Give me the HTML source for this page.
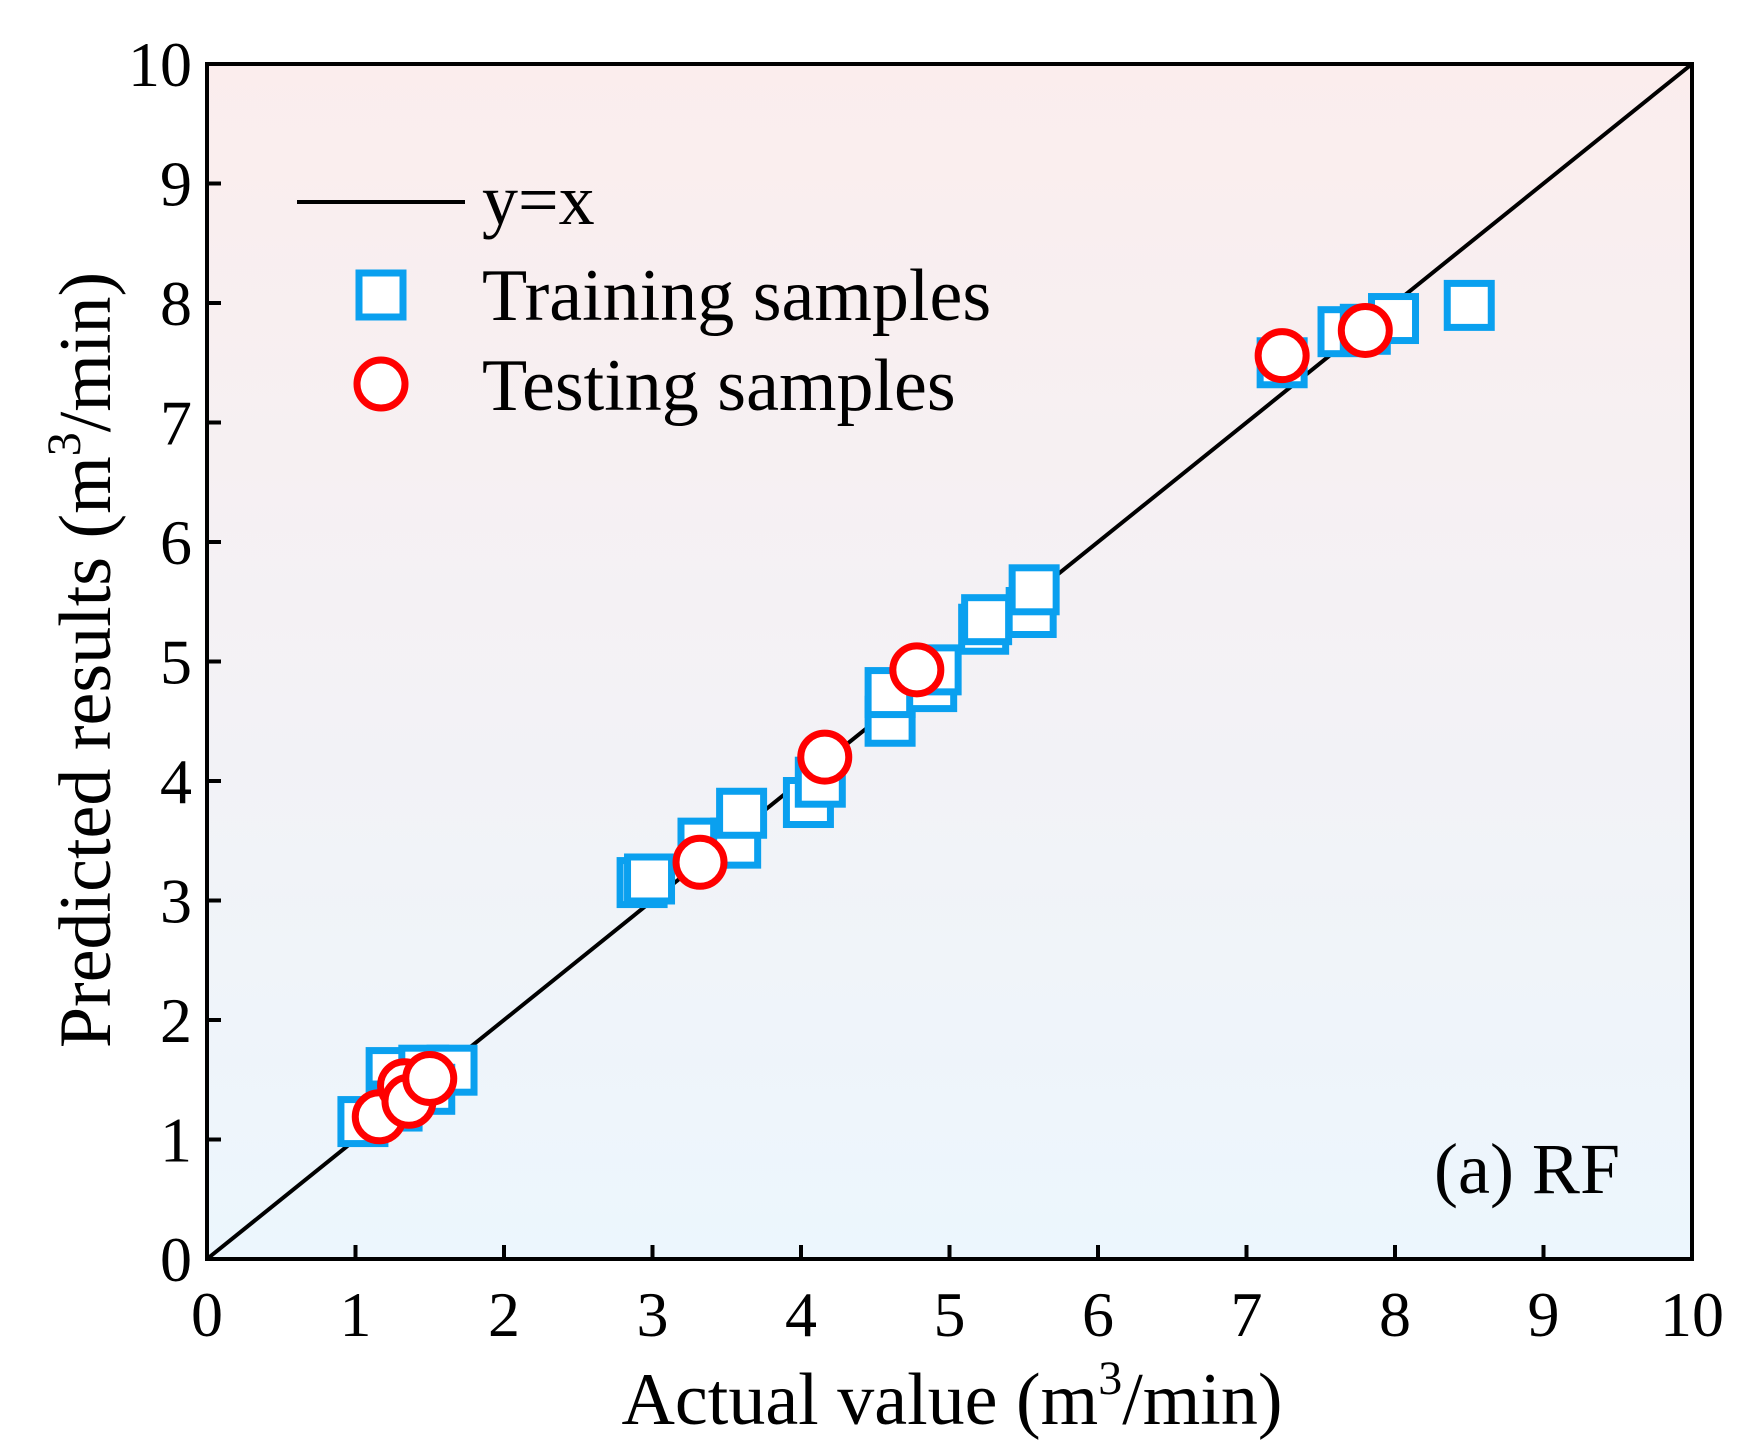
<!DOCTYPE html>
<html><head><meta charset="utf-8"><style>
html,body{margin:0;padding:0;background:#fff;}
svg{display:block;font-family:"Liberation Serif","DejaVu Serif",serif;}
</style></head><body>
<svg id="chart" width="1748" height="1455" viewBox="0 0 1748 1455" xmlns="http://www.w3.org/2000/svg">
<defs><linearGradient id="bg" x1="0" y1="0" x2="0" y2="1"><stop offset="0" stop-color="#fbeded"/><stop offset="1" stop-color="#ecf6fd"/></linearGradient></defs>
<rect x="207" y="64" width="1485" height="1195" fill="url(#bg)"/>
<g id="ticks"></g>
<line id="idline" stroke="#000" stroke-width="4"/>
<g id="marks"></g>
<rect x="207" y="64" width="1485" height="1195" fill="none" stroke="#000" stroke-width="4"/>
<g>
<line x1="297" y1="202" x2="465" y2="202" stroke="#000" stroke-width="4"/>
<text x="482" y="224" font-size="72">y=x</text>
<rect x="359" y="273" width="44" height="44" fill="#fff" stroke="#0aa0ef" stroke-width="7"/>
<text x="482" y="320" font-size="74">Training samples</text>
<circle cx="381" cy="384" r="24" fill="#fff" stroke="#ff0000" stroke-width="7"/>
<text x="482" y="410" font-size="74">Testing samples</text>
</g>
<text x="1620" y="1193" font-size="72" text-anchor="end">(a) RF</text>
<text x="952" y="1424" font-size="74" text-anchor="middle">Actual value (m<tspan font-size="48" dy="-30">3</tspan><tspan dy="30">/min)</tspan></text>
<text transform="translate(110,660) rotate(-90)" font-size="74" text-anchor="middle">Predicted results (m<tspan font-size="48" dy="-30">3</tspan><tspan dy="30">/min)</tspan></text>
</svg>
<script>
const ticks=[0,1,2,3,4,5,6,7,8,9,10];
const tickLabels=["0","1","2","3","4","5","6","7","8","9","10"];
const trainX=[1.05,1.24,1.46,1.65,1.28,1.5,2.93,2.98,3.34,3.56,3.6,4.05,4.13,4.6,4.6,4.88,4.91,5.23,5.25,5.55,5.57,7.24,7.65,7.8,7.99,8.5];
const trainY=[1.15,1.56,1.58,1.58,1.28,1.42,3.15,3.18,3.48,3.48,3.73,3.82,3.99,4.5,4.74,4.79,4.93,5.27,5.35,5.41,5.6,7.5,7.76,7.78,7.87,7.98];
const testX=[1.16,1.33,1.36,1.5,3.32,4.16,4.78,7.24,7.8];
const testY=[1.19,1.45,1.32,1.51,3.32,4.2,4.93,7.56,7.77];
const NS="http://www.w3.org/2000/svg";
const L=207,R=1692,T=64,B=1259;
const sx=v=>L+(R-L)*v/10, sy=v=>B-(B-T)*v/10;
function mk(tag,attrs,parent){const e=document.createElementNS(NS,tag);for(const k in attrs)e.setAttribute(k,attrs[k]);parent.appendChild(e);return e;}
const tg=document.getElementById('ticks');
ticks.forEach((t,i)=>{
  let a=mk('line',{x1:sx(t),x2:sx(t),y1:B,y2:B-14,stroke:'#000','stroke-width':4},tg);
  
  
  let b=mk('line',{x1:L,x2:L+14,y1:sy(t),y2:sy(t),stroke:'#000','stroke-width':4},tg);
  
  
  let c=mk('text',{x:sx(t),y:1336,'font-size':64,'text-anchor':'middle'},tg);c.textContent=tickLabels[i];
  
  
  let d=mk('text',{x:192,y:sy(t)+22,'font-size':64,'text-anchor':'end'},tg);d.textContent=tickLabels[i];
  
  
});
const il=document.getElementById('idline');
il.setAttribute('x1',sx(0));il.setAttribute('y1',sy(0));il.setAttribute('x2',sx(10));il.setAttribute('y2',sy(10));
const mg=document.getElementById('marks');
trainX.forEach((x,i)=>{
  let r=mk('rect',{x:sx(x)-22,y:sy(trainY[i])-22,width:44,height:44,fill:'#fff',stroke:'#0aa0ef','stroke-width':7},mg);
  
  
});
testX.forEach((x,i)=>{
  let c=mk('circle',{cx:sx(x),cy:sy(testY[i]),r:24,fill:'#fff',stroke:'#ff0000','stroke-width':7},mg);
  
  
});
</script>
</body></html>
